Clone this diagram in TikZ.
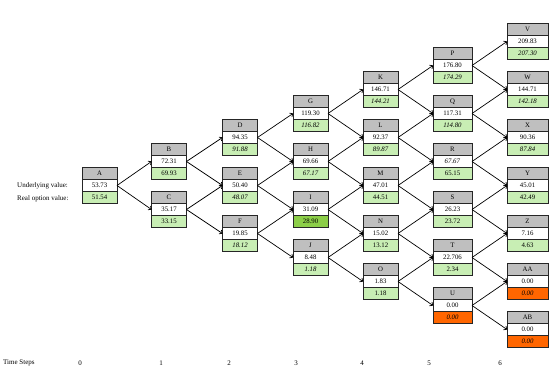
\documentclass[tikz,border=0pt]{standalone}
\usepackage{fontspec}
\setmainfont{Liberation Serif}
\usetikzlibrary{arrows.meta}
\definecolor{hdrgray}{RGB}{191,191,191}
\definecolor{optgreen}{RGB}{200,238,180}
\definecolor{optdark}{RGB}{140,206,72}
\definecolor{optorange}{RGB}{255,102,0}

% one lattice node: name, x, y, letter, underlying, option, option style
\newcommand{\latnode}[7]{%
  \node[hdr] (#1-h) at (#2,#3-12) {#4};
  \node[val] (#1) at (#2,#3) {#5};
  \node[#7] (#1-o) at (#2,#3+12) {#6};
}

\begin{document}
\begin{tikzpicture}[x=1pt,y=-1pt,
    cell/.style={draw=black!85, line width=0.8pt, minimum width=\bw pt,
      minimum height=12pt, inner sep=0pt, outer sep=0pt,
      font=\fontsize{6.8}{7}\selectfont},
    hdr/.style={cell, fill=hdrgray},
    val/.style={cell, fill=white},
    opt/.style={cell, fill=optgreen},
    optit/.style={opt, font=\fontsize{6.8}{7}\selectfont\itshape},
    optmid/.style={cell, fill=optdark},
    optnil/.style={cell, fill=optorange, font=\fontsize{6.8}{7}\selectfont\itshape},
    link/.style={-{To[length=3pt,width=5pt]}, line width=0.7pt},
    lbl/.style={font=\fontsize{7}{8}\selectfont, inner sep=0pt}]
  \useasboundingbox (0,0) rectangle (550,372);
  \def\bw{35}

  % Step 0
  \latnode{A}{99.5}{185.5}{A}{53.73}{51.54}{opt}

  % Step 1
  \latnode{B}{169}{161.5}{B}{72.31}{69.93}{opt}
  \latnode{C}{169}{209.5}{C}{35.17}{33.15}{opt}

  % Step 2
  \latnode{D}{240}{137.5}{D}{94.35}{91.88}{optit}
  \latnode{E}{240}{185.5}{E}{50.40}{48.07}{optit}
  \latnode{F}{240}{233.5}{F}{19.85}{18.12}{optit}

  % Step 3
  \latnode{G}{310.5}{113.5}{G}{119.30}{116.82}{optit}
  \latnode{H}{310.5}{161.5}{H}{69.66}{67.17}{optit}
  \latnode{I}{310.5}{209.5}{I}{31.09}{28.90}{optmid}
  \latnode{J}{310.5}{257.5}{J}{8.48}{1.18}{optit}

  % Step 4
  \latnode{K}{380.5}{89.5}{K}{146.71}{144.21}{optit}
  \latnode{L}{380.5}{137.5}{L}{92.37}{89.87}{optit}
  \latnode{M}{380.5}{185.5}{M}{47.01}{44.51}{opt}
  \latnode{N}{380.5}{233.5}{N}{15.02}{13.12}{opt}
  \latnode{O}{380.5}{281.5}{O}{1.83}{1.18}{opt}

  % Step 5
  \def\bw{39}
  \latnode{P}{452.5}{65.5}{P}{176.80}{174.29}{optit}
  \latnode{Q}{452.5}{113.5}{Q}{117.31}{114.80}{optit}
  \latnode{R}{452.5}{161.5}{R}{\textit{67.67}}{65.15}{opt}
  \latnode{S}{452.5}{209.5}{S}{26.23}{23.72}{opt}
  \latnode{T}{452.5}{257.5}{T}{22.706}{2.34}{opt}
  \latnode{U}{452.5}{305.5}{U}{0.00}{0.00}{optnil}

  % Step 6
  \def\bw{41}
  \latnode{V}{527.5}{41.5}{V}{209.83}{207.30}{optit}
  \latnode{W}{527.5}{89.5}{W}{144.71}{142.18}{optit}
  \latnode{X}{527.5}{137.5}{X}{90.36}{87.84}{optit}
  \latnode{Y}{527.5}{185.5}{Y}{45.01}{42.49}{opt}
  \latnode{Z}{527.5}{233.5}{Z}{7.16}{4.63}{opt}
  \latnode{AA}{527.5}{281.5}{AA}{0.00}{0.00}{optnil}
  \latnode{AB}{527.5}{329.5}{AB}{0.00}{0.00}{optnil}

  % Up and down moves
  \path (A.east) edge[link] (B.west) edge[link] (C.west);
  \path (B.east) edge[link] (D.west) edge[link] (E.west);
  \path (C.east) edge[link] (E.west) edge[link] (F.west);
  \path (D.east) edge[link] (G.west) edge[link] (H.west);
  \path (E.east) edge[link] (H.west) edge[link] (I.west);
  \path (F.east) edge[link] (I.west) edge[link] (J.west);
  \path (G.east) edge[link] (K.west) edge[link] (L.west);
  \path (H.east) edge[link] (L.west) edge[link] (M.west);
  \path (I.east) edge[link] (M.west) edge[link] (N.west);
  \path (J.east) edge[link] (N.west) edge[link] (O.west);
  \path (K.east) edge[link] (P.west) edge[link] (Q.west);
  \path (L.east) edge[link] (Q.west) edge[link] (R.west);
  \path (M.east) edge[link] (R.west) edge[link] (S.west);
  \path (N.east) edge[link] (S.west) edge[link] (T.west);
  \path (O.east) edge[link] (T.west) edge[link] (U.west);
  \path (P.east) edge[link] (V.west) edge[link] (W.west);
  \path (Q.east) edge[link] (W.west) edge[link] (X.west);
  \path (R.east) edge[link] (X.west) edge[link] (Y.west);
  \path (S.east) edge[link] (Y.west) edge[link] (Z.west);
  \path (T.east) edge[link] (Z.west) edge[link] (AA.west);
  \path (U.east) edge[link] (AA.west) edge[link] (AB.west);

  % Row labels
  \node[lbl, anchor=west] (under) at (17,186) {Underlying value:};
  \node[lbl, anchor=west] (real) at (17,199) {Real option value:};

  % Time axis
  \node[lbl, anchor=west] (steps) at (3,363) {Time Steps};
  \node[lbl] (t0) at (80,363) {0};
  \node[lbl] (t1) at (161,363) {1};
  \node[lbl] (t2) at (229,363) {2};
  \node[lbl] (t3) at (296,363) {3};
  \node[lbl] (t4) at (362,363) {4};
  \node[lbl] (t5) at (429,363) {5};
  \node[lbl] (t6) at (500,363) {6};
\end{tikzpicture}
\end{document}
